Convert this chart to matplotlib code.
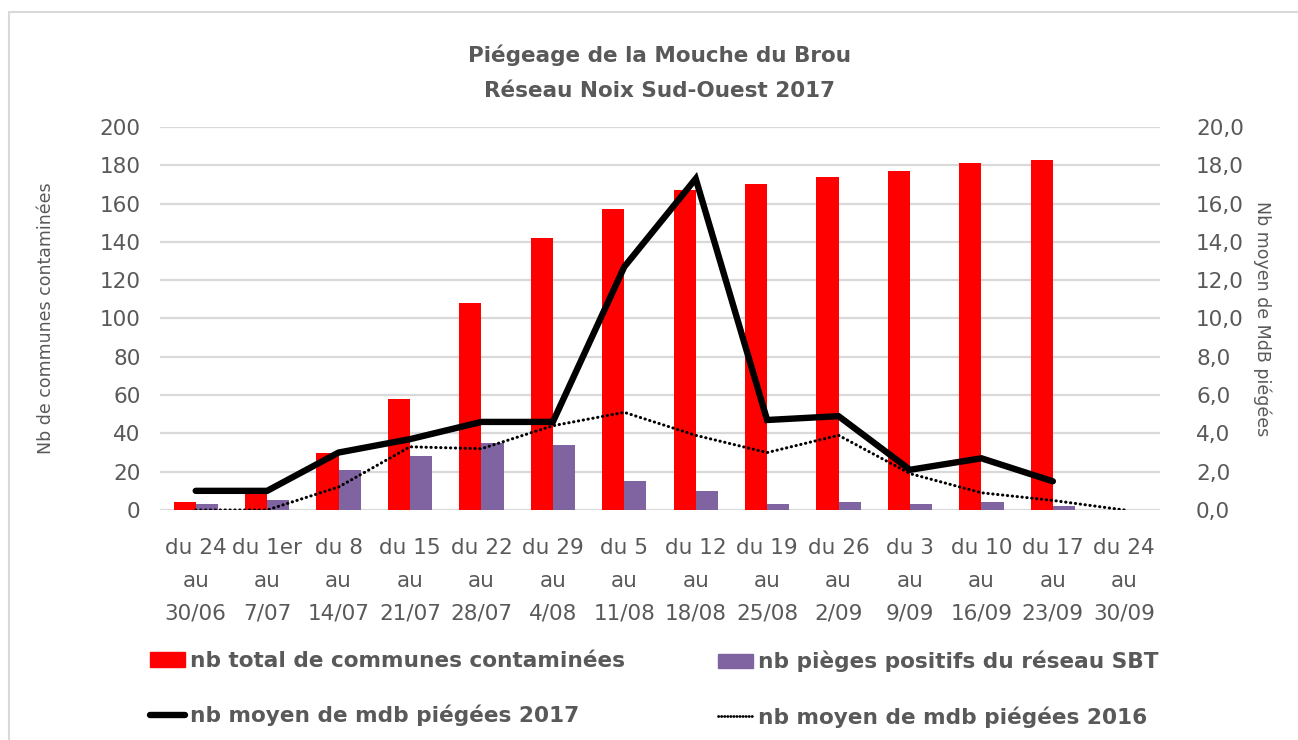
import numpy as np
import matplotlib.pyplot as plt
from matplotlib.patches import Rectangle, Patch
from matplotlib.lines import Line2D
from matplotlib.ticker import FuncFormatter

# Données
categories = ["du 24\nau\n30/06", "du 1er\nau\n7/07", "du 8\nau\n14/07", "du 15\nau\n21/07",
              "du 22\nau\n28/07", "du 29\nau\n4/08", "du 5\nau\n11/08", "du 12\nau\n18/08",
              "du 19\nau\n25/08", "du 26\nau\n2/09", "du 3\nau\n9/09", "du 10\nau\n16/09",
              "du 17\nau\n23/09", "du 24\nau\n30/09"]
communes = [4, 9, 30, 58, 108, 142, 157, 167, 170, 174, 177, 181, 183, np.nan]
pieges_sbt = [3, 5, 21, 28, 35, 34, 15, 10, 3, 4, 3, 4, 2, np.nan]
mdb_2017 = [1.0, 1.0, 3.0, 3.7, 4.6, 4.6, 12.7, 17.3, 4.7, 4.9, 2.1, 2.7, 1.5, np.nan]
mdb_2016 = [0.0, 0.0, 1.2, 3.3, 3.2, 4.4, 5.1, 3.9, 3.0, 3.9, 1.9, 0.9, 0.5, 0.0]

W, H = 1298, 740
grey = '#595959'
grid_col = '#d9d9d9'

fig = plt.figure(figsize=(W / 100, H / 100), dpi=100)

# cadre du graphique
fig.patches.append(Rectangle((9 / W, -0.1), 1.2, (740 - 12) / H + 0.1, transform=fig.transFigure,
                             fill=False, edgecolor=grid_col, linewidth=1.5))

ax = fig.add_axes([160 / W, (H - 510) / H, 1000 / W, 383 / H])
x = np.arange(len(categories))
bw = 0.31
ax.bar(x - bw, communes, width=bw, align='edge', color='#ff0000', zorder=2)
ax.bar(x, pieges_sbt, width=bw, align='edge', color='#8064a2', zorder=2)

ax.set_xlim(-0.5, len(categories) - 0.5)
ax.set_ylim(0, 200)
ax.set_yticks(np.arange(0, 201, 20))
ax.set_xticks(x)
ax.set_xticklabels(categories, linespacing=1.8)
ax.grid(axis='y', color=grid_col, linewidth=1.6, zorder=0)
ax.set_axisbelow(True)
for s in ax.spines.values():
    s.set_visible(False)
ax.tick_params(length=0, labelsize=15.5, colors=grey)
ax.tick_params(axis='y', pad=14)
ax.tick_params(axis='x', pad=20)
ax.set_ylabel("Nb de communes contaminées", fontsize=12.5, color=grey, labelpad=32)

ax2 = ax.twinx()
ax2.plot(x, mdb_2017, color='black', linewidth=4.6, solid_capstyle='round', solid_joinstyle='miter')
ax2.plot(x, mdb_2016, color='black', linewidth=2.2, linestyle=(0, (0.1, 1.5)), dash_capstyle='round')
ax2.set_ylim(0, 20)
ax2.set_yticks(np.arange(0, 20.1, 2))
ax2.yaxis.set_major_formatter(FuncFormatter(lambda v, p: f"{v:.1f}".replace('.', ',')))
for s in ax2.spines.values():
    s.set_visible(False)
ax2.tick_params(length=0, labelsize=15.5, colors=grey, pad=26)
ax2.set_ylabel("Nb moyen de MdB piégées", fontsize=12.5, color=grey, rotation=270, labelpad=20)

fig.text(660 / W, 1 - 55 / H, "Piégeage de la Mouche du Brou", ha='center', va='center',
         fontsize=15.5, fontweight='bold', color=grey)
fig.text(660 / W, 1 - 91 / H, "Réseau Noix Sud-Ouest 2017", ha='center', va='center',
         fontsize=15.5, fontweight='bold', color=grey)

# légende en deux colonnes
h_red = Patch(color='#ff0000')
h_pur = Patch(color='#8064a2')
h_17 = Line2D([], [], color='black', linewidth=4.6, solid_capstyle='round')
h_16 = Line2D([], [], color='black', linewidth=2.0, linestyle=(0, (0.1, 1.0)), dash_capstyle='round')
leg_kw = dict(frameon=False, handlelength=1.6, handleheight=0.65, handletextpad=0.25,
              labelspacing=1.55, prop={'size': 15.6, 'weight': 'bold'}, labelcolor=grey,
              loc='upper left', borderaxespad=0, borderpad=0)
leg1 = fig.legend([h_red, h_17], ["nb total de communes contaminées", "nb moyen de mdb piégées 2017"],
                  bbox_to_anchor=(150 / W, 1 - 651 / H), **leg_kw)
leg2 = fig.legend([h_pur, h_16], ["nb pièges positifs du réseau SBT", "nb moyen de mdb piégées 2016"],
                  bbox_to_anchor=(718 / W, 1 - 651 / H), **leg_kw)

fig.savefig("out.png", dpi=100)
